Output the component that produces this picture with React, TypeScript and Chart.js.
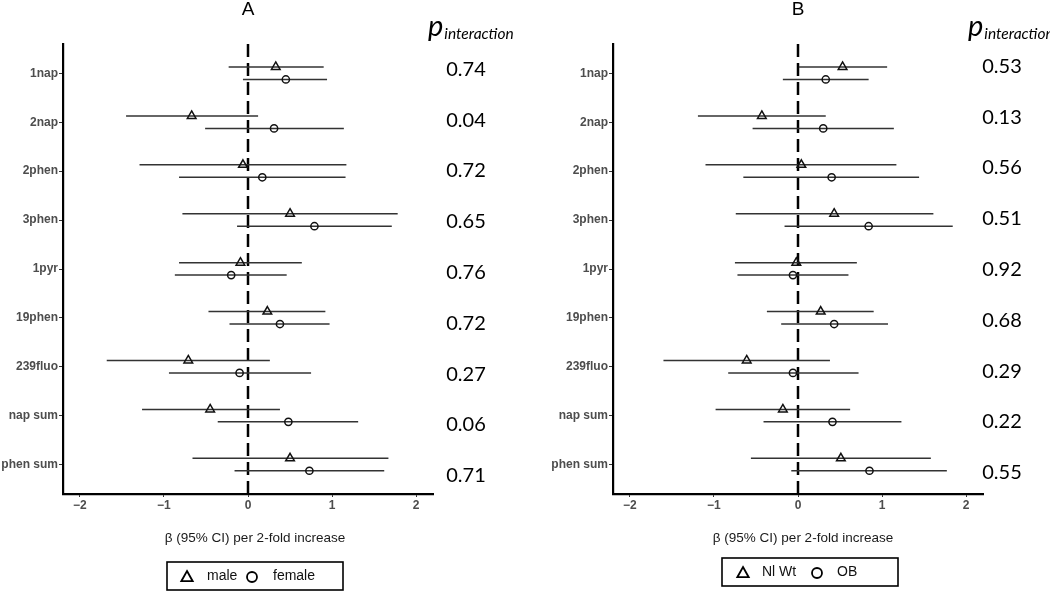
import React, { useEffect, useRef } from 'react';
import { Chart, registerables } from 'chart.js';

Chart.register(...registerables);

// ---------- data ----------
const categories = ['1nap', '2nap', '2phen', '3phen', '1pyr', '19phen', '239fluo', 'nap sum', 'phen sum'];
const xTicks = [-2, -1, 0, 1, 2];

// Panel A: sex
const maleEst = [0.33, -0.67, -0.06, 0.5, -0.09, 0.23, -0.71, -0.45, 0.5];
const maleLo = [-0.23, -1.45, -1.29, -0.78, -0.82, -0.47, -1.68, -1.26, -0.66];
const maleHi = [0.9, 0.12, 1.17, 1.78, 0.64, 0.92, 0.26, 0.38, 1.67];
const femaleEst = [0.45, 0.31, 0.17, 0.79, -0.2, 0.38, -0.1, 0.48, 0.73];
const femaleLo = [-0.06, -0.51, -0.82, -0.13, -0.87, -0.22, -0.94, -0.36, -0.16];
const femaleHi = [0.94, 1.14, 1.16, 1.71, 0.46, 0.97, 0.75, 1.31, 1.62];
const pInteractionA = ['0.74', '0.04', '0.72', '0.65', '0.76', '0.72', '0.27', '0.06', '0.71'];

// Panel B: weight status
const nlWtEst = [0.53, -0.43, 0.04, 0.43, -0.02, 0.27, -0.61, -0.18, 0.51];
const nlWtLo = [0.01, -1.19, -1.1, -0.74, -0.75, -0.37, -1.6, -0.98, -0.56];
const nlWtHi = [1.06, 0.33, 1.17, 1.61, 0.7, 0.9, 0.38, 0.62, 1.58];
const obEst = [0.33, 0.3, 0.4, 0.84, -0.06, 0.43, -0.06, 0.41, 0.85];
const obLo = [-0.18, -0.54, -0.65, -0.16, -0.72, -0.2, -0.83, -0.41, -0.08];
const obHi = [0.84, 1.14, 1.44, 1.84, 0.6, 1.07, 0.72, 1.23, 1.77];
const pInteractionB = ['0.53', '0.13', '0.56', '0.51', '0.92', '0.68', '0.29', '0.22', '0.55'];

const xAxisTitle = 'β (95% CI) per 2-fold increase';

// ---------- layout / style ----------
const H = 591;
const PLOT_TOP = 44;
const PLOT_BOTTOM = 494;
const OFF1 = -0.13;
const OFF2 = 0.125;

type Series = { est: number[]; lo: number[]; hi: number[]; label: string };
type PanelCfg = {
  left: number;
  width: number;
  title: string;
  s1: Series;
  s2: Series;
  pvals: string[];
  plotLeft: number;
  plotRight: number;
  pX: number;
  headerX: number;
  pOffStart: number;
  pOffEnd: number;
  axisTitleX: number;
  legendBox: { x: number; y: number; w: number; h: number };
  legendItems: { marker: 'triangle' | 'circle'; mx: number; tx: number }[];
};

const panelA: PanelCfg = {
  left: 0,
  width: 530,
  title: 'A',
  s1: { est: maleEst, lo: maleLo, hi: maleHi, label: 'male' },
  s2: { est: femaleEst, lo: femaleLo, hi: femaleHi, label: 'female' },
  pvals: pInteractionA,
  plotLeft: 63,
  plotRight: 433,
  pX: 466,
  headerX: 428,
  pOffStart: -4,
  pOffEnd: 11,
  axisTitleX: 255,
  legendBox: { x: 167, y: 562, w: 176, h: 28 },
  legendItems: [
    { marker: 'triangle', mx: 187, tx: 207 },
    { marker: 'circle', mx: 252, tx: 273 },
  ],
};

const panelB: PanelCfg = {
  left: 530,
  width: 520,
  title: 'B',
  s1: { est: nlWtEst, lo: nlWtLo, hi: nlWtHi, label: 'Nl Wt' },
  s2: { est: obEst, lo: obLo, hi: obHi, label: 'OB' },
  pvals: pInteractionB,
  plotLeft: 83,
  plotRight: 453,
  pX: 472,
  headerX: 438,
  pOffStart: -7,
  pOffEnd: 8,
  axisTitleX: 273,
  legendBox: { x: 192, y: 558, w: 176, h: 28 },
  legendItems: [
    { marker: 'triangle', mx: 213, tx: 232 },
    { marker: 'circle', mx: 287, tx: 307 },
  ],
};

function drawTriangle(ctx: CanvasRenderingContext2D, x: number, y: number, s: number) {
  ctx.beginPath();
  ctx.moveTo(x, y - s);
  ctx.lineTo(x + s * 0.95, y + s * 0.7);
  ctx.lineTo(x - s * 0.95, y + s * 0.7);
  ctx.closePath();
  ctx.stroke();
}

function Panel({ cfg }: { cfg: PanelCfg }) {
  const ref = useRef<HTMLCanvasElement | null>(null);

  useEffect(() => {
    const canvas = ref.current;
    if (!canvas) return;

    const decor = {
      id: 'forestDecor',
      beforeDatasetsDraw(chart: any) {
        const { ctx, chartArea } = chart;
        const xs = chart.scales.x;
        const ys = chart.scales.y;
        ctx.save();
        // zero reference line
        const x0 = xs.getPixelForValue(0);
        ctx.strokeStyle = '#000';
        ctx.lineWidth = 2.5;
        ctx.setLineDash([13, 6]);
        ctx.beginPath();
        ctx.moveTo(x0, chartArea.top);
        ctx.lineTo(x0, chartArea.bottom);
        ctx.stroke();
        ctx.setLineDash([]);
        // CI lines
        ctx.strokeStyle = '#333';
        ctx.lineWidth = 1.5;
        const drawSeries = (s: Series, off: number) => {
          s.lo.forEach((lo, i) => {
            const y = ys.getPixelForValue(i + 1 + off);
            ctx.beginPath();
            ctx.moveTo(xs.getPixelForValue(lo), y);
            ctx.lineTo(xs.getPixelForValue(s.hi[i]), y);
            ctx.stroke();
          });
        };
        drawSeries(cfg.s1, OFF1);
        drawSeries(cfg.s2, OFF2);
        ctx.restore();
      },
      afterDraw(chart: any) {
        const { ctx, chartArea } = chart;
        const ys = chart.scales.y;
        ctx.save();
        ctx.fillStyle = '#000';
        // panel title
        ctx.font = '19px "Liberation Sans", Arial, sans-serif';
        ctx.textAlign = 'center';
        ctx.textBaseline = 'middle';
        ctx.fillText(cfg.title, (chartArea.left + chartArea.right) / 2, 10);
        // p interaction header
        ctx.textAlign = 'left';
        ctx.textBaseline = 'alphabetic';
        ctx.font = 'italic 29px Lato, "Open Sans", sans-serif';
        ctx.fillText('p', cfg.headerX, 36);
        const pw = ctx.measureText('p').width;
        ctx.font = 'italic 15.5px Lato, "Open Sans", sans-serif';
        ctx.fillText('interaction', cfg.headerX + pw + 1, 39);
        // p values
        ctx.font = '20px Lato, "Open Sans", sans-serif';
        ctx.textAlign = 'center';
        ctx.textBaseline = 'middle';
        const n = cfg.pvals.length;
        cfg.pvals.forEach((p, i) => {
          const off = cfg.pOffStart + ((cfg.pOffEnd - cfg.pOffStart) * i) / (n - 1);
          ctx.fillText(p, cfg.pX, ys.getPixelForValue(i + 1) + off);
        });
        // x axis title
        ctx.font = '13.5px "Liberation Sans", Arial, sans-serif';
        ctx.fillStyle = '#1a1a1a';
        ctx.fillText(xAxisTitle, cfg.axisTitleX, 538);
        // legend
        const b = cfg.legendBox;
        ctx.strokeStyle = '#000';
        ctx.lineWidth = 1.6;
        ctx.strokeRect(b.x, b.y, b.w, b.h);
        const cy = b.y + b.h / 2;
        ctx.lineWidth = 1.8;
        ctx.font = '14px "Liberation Sans", Arial, sans-serif';
        ctx.textAlign = 'left';
        ctx.fillStyle = '#111';
        const labels = [cfg.s1.label, cfg.s2.label];
        cfg.legendItems.forEach((it, k) => {
          if (it.marker === 'triangle') {
            drawTriangle(ctx, it.mx, cy + 1, 6);
          } else {
            ctx.beginPath();
            ctx.arc(it.mx, cy + 1, 5, 0, Math.PI * 2);
            ctx.stroke();
          }
          ctx.fillText(labels[k], it.tx, cy);
        });
        ctx.restore();
      },
    };

    const mk = (s: Series, off: number, style: string, r: number) => ({
      label: s.label,
      data: s.est.map((v, i) => ({ x: v, y: i + 1 + off })),
      pointStyle: style,
      pointRadius: r,
      pointBorderWidth: 1.5,
      pointBorderColor: '#111',
      pointBackgroundColor: 'rgba(0,0,0,0)',
      borderColor: '#111',
      backgroundColor: 'rgba(0,0,0,0)',
      showLine: false,
    });

    const chart = new Chart(canvas, {
      type: 'scatter',
      data: {
        datasets: [mk(cfg.s1, OFF1, 'triangle', 5), mk(cfg.s2, OFF2, 'circle', 3.6)],
      },
      options: {
        responsive: false,
        animation: false,
        devicePixelRatio: 1,
        layout: {
          padding: { left: 0, top: PLOT_TOP, right: cfg.width - cfg.plotRight, bottom: 0 },
        },
        plugins: { legend: { display: false }, tooltip: { enabled: false } },
        scales: {
          x: {
            type: 'linear',
            min: -2.2,
            max: 2.2,
            afterBuildTicks: (scale: any) => {
              scale.ticks = xTicks.map((v) => ({ value: v }));
            },
            afterFit: (scale: any) => {
              scale.height = H - PLOT_BOTTOM;
            },
            ticks: {
              callback: (v: any) => (Number(v) < 0 ? '\u2212' + Math.abs(Number(v)) : String(v)),
              font: { family: '"Liberation Sans", Arial, sans-serif', size: 12, weight: 'bold' },
              color: '#4d4d4d',
              padding: 1,
              maxRotation: 0,
            },
            grid: { display: true, drawOnChartArea: false, drawTicks: true, tickLength: 3, color: '#333', lineWidth: 1 },
            border: { display: true, color: '#000', width: 2.2 },
          },
          y: {
            type: 'linear',
            min: 0.4,
            max: 9.6,
            reverse: true,
            afterBuildTicks: (scale: any) => {
              scale.ticks = categories.map((_, i) => ({ value: i + 1 }));
            },
            afterFit: (scale: any) => {
              scale.width = cfg.plotLeft;
            },
            ticks: {
              autoSkip: false,
              callback: (v: any) => categories[Math.round(Number(v)) - 1] ?? '',
              font: { family: '"Liberation Sans", Arial, sans-serif', size: 12, weight: 'bold' },
              color: '#4d4d4d',
              padding: 1,
            },
            grid: { display: true, drawOnChartArea: false, drawTicks: true, tickLength: 4, color: '#333', lineWidth: 1 },
            border: { display: true, color: '#000', width: 2.2 },
          },
        },
      } as any,
      plugins: [decor],
    });

    return () => chart.destroy();
  }, [cfg]);

  return (
    <canvas
      ref={ref}
      width={cfg.width}
      height={H}
      style={{ position: 'absolute', left: cfg.left, top: 0, width: cfg.width, height: H }}
    />
  );
}

export default function App() {
  return (
    <div
      style={{
        position: 'absolute',
        left: 0,
        top: 0,
        width: 1050,
        height: H,
        background: '#fff',
        overflow: 'hidden',
      }}
    >
      <Panel cfg={panelA} />
      <Panel cfg={panelB} />
    </div>
  );
}
